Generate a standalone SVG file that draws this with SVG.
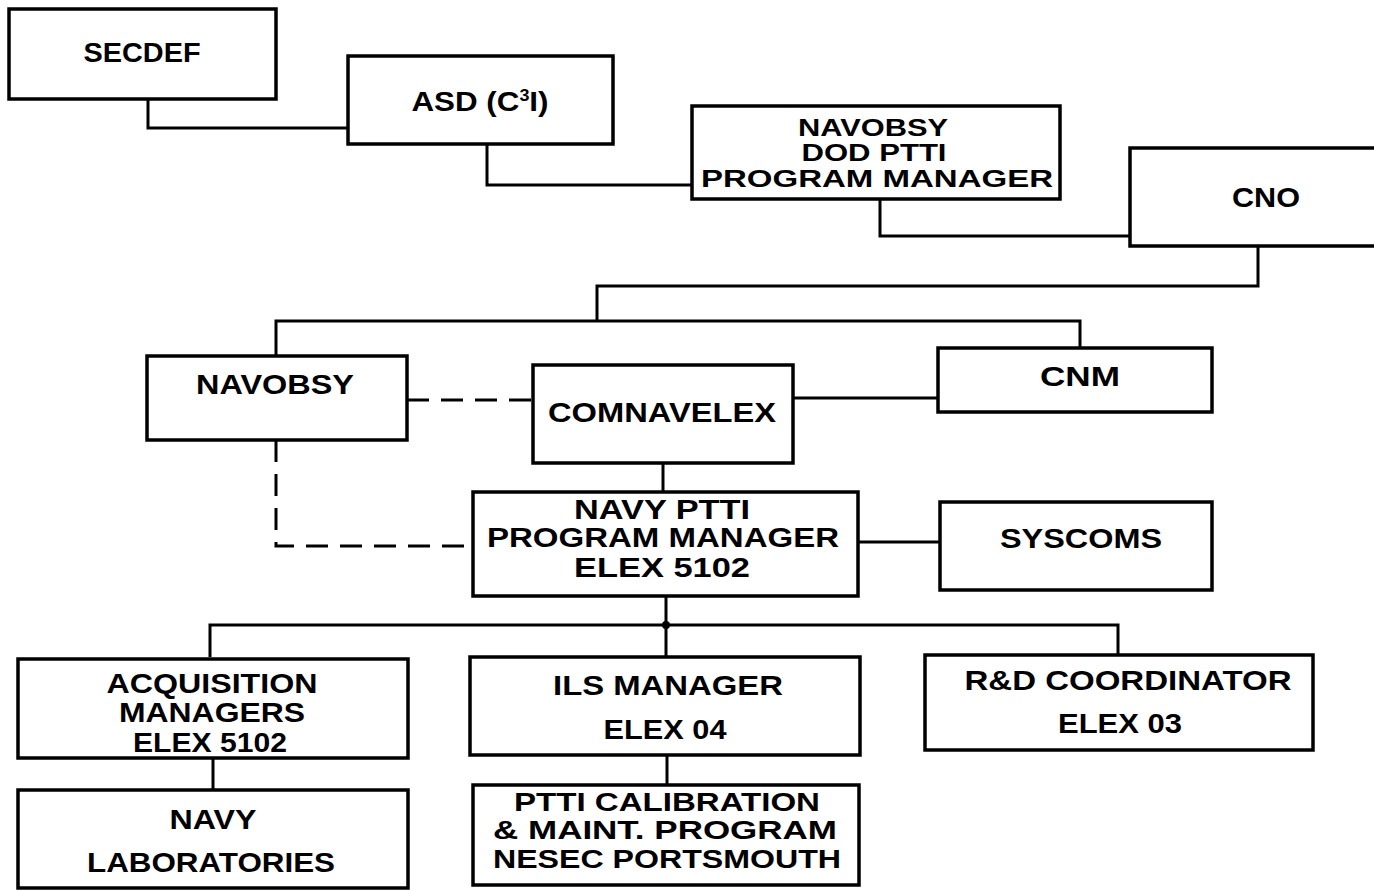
<svg xmlns="http://www.w3.org/2000/svg" width="1374" height="890" viewBox="0 0 1374 890">
<style>
.box{fill:#fff;stroke:#000;stroke-width:3.5}
.ln{fill:none;stroke:#000;stroke-width:3}
.dash{fill:none;stroke:#000;stroke-width:3;stroke-dasharray:22 12}
text{font-family:"Liberation Sans",Arial,sans-serif;font-weight:bold;font-size:28px;fill:#000;text-anchor:middle}
.s24{font-size:24px}
.s25{font-size:25px}
.s27{font-size:27px}
</style>
<rect width="1374" height="890" fill="#fff"/>
<g id="connectors">
<polyline class="ln" points="148,98 148,128 348,128"/>
<polyline class="ln" points="487,144 487,185 692,185"/>
<polyline class="ln" points="880,199 880,236 1130,236"/>
<polyline class="ln" points="1258,246 1258,286 597,286 597,321"/>
<polyline class="ln" points="276,356 276,321 1080,321 1080,348"/>
<line class="ln" x1="793" y1="398" x2="938" y2="398"/>
<line class="ln" x1="663" y1="463" x2="663" y2="492"/>
<line class="ln" x1="858" y1="542" x2="940" y2="542"/>
<path class="dash" d="M407,400 H533"/>
<path class="dash" d="M276,440 V546 H473"/>
<polyline class="ln" points="666,595 666,657"/>
<polyline class="ln" points="210,657 210,625 1118,625 1118,655"/>
<circle cx="666" cy="625" r="4" fill="#000"/>
<line class="ln" x1="213" y1="758" x2="213" y2="790"/>
<line class="ln" x1="667" y1="755" x2="667" y2="785"/>
</g>
<g id="secdef"><rect class="box" x="9" y="9" width="267" height="90"/><text x="142" y="62" textLength="117" lengthAdjust="spacingAndGlyphs">SECDEF</text></g>
<g id="asd"><rect class="box" x="348" y="56" width="265" height="88"/><text x="480" y="111" textLength="137" lengthAdjust="spacingAndGlyphs">ASD (C<tspan font-size="16" dy="-10">3</tspan><tspan dy="10">I)</tspan></text></g>
<g id="navobsy-dod"><rect class="box" x="692" y="106" width="368" height="93"/>
<text class="s24" x="873" y="136" textLength="150" lengthAdjust="spacingAndGlyphs">NAVOBSY</text>
<text class="s24" x="874" y="161" textLength="145" lengthAdjust="spacingAndGlyphs">DOD PTTI</text>
<text class="s24" x="877" y="187" textLength="352" lengthAdjust="spacingAndGlyphs">PROGRAM MANAGER</text></g>
<g id="cno"><rect class="box" x="1130" y="148" width="260" height="98"/><text x="1266" y="207" textLength="68" lengthAdjust="spacingAndGlyphs">CNO</text></g>
<g id="navobsy"><rect class="box" x="147" y="356" width="260" height="84"/><text x="275" y="394" textLength="158" lengthAdjust="spacingAndGlyphs">NAVOBSY</text></g>
<g id="comnavelex"><rect class="box" x="533" y="365" width="260" height="98"/><text x="662" y="422" textLength="228" lengthAdjust="spacingAndGlyphs">COMNAVELEX</text></g>
<g id="cnm"><rect class="box" x="938" y="348" width="274" height="64"/><text x="1080" y="386" textLength="80" lengthAdjust="spacingAndGlyphs">CNM</text></g>
<g id="navy-ptti"><rect class="box" x="473" y="492" width="385" height="104"/>
<text class="s27" x="662" y="519" textLength="176" lengthAdjust="spacingAndGlyphs">NAVY PTTI</text>
<text class="s27" x="663" y="547" textLength="352" lengthAdjust="spacingAndGlyphs">PROGRAM MANAGER</text>
<text class="s27" x="662" y="577" textLength="176" lengthAdjust="spacingAndGlyphs">ELEX 5102</text></g>
<g id="syscoms"><rect class="box" x="940" y="502" width="272" height="88"/><text x="1081" y="548" textLength="162" lengthAdjust="spacingAndGlyphs">SYSCOMS</text></g>
<g id="acquisition"><rect class="box" x="18" y="659" width="390" height="99"/>
<text x="212" y="693" textLength="211" lengthAdjust="spacingAndGlyphs">ACQUISITION</text>
<text x="212" y="722" textLength="186" lengthAdjust="spacingAndGlyphs">MANAGERS</text>
<text x="210" y="752" textLength="154" lengthAdjust="spacingAndGlyphs">ELEX 5102</text></g>
<g id="ils"><rect class="box" x="470" y="657" width="390" height="98"/>
<text x="668" y="695" textLength="230" lengthAdjust="spacingAndGlyphs">ILS MANAGER</text>
<text x="665" y="739" textLength="123" lengthAdjust="spacingAndGlyphs">ELEX 04</text></g>
<g id="rd"><rect class="box" x="925" y="655" width="388" height="95"/>
<text x="1128" y="690" textLength="327" lengthAdjust="spacingAndGlyphs">R&amp;D COORDINATOR</text>
<text x="1120" y="733" textLength="124" lengthAdjust="spacingAndGlyphs">ELEX 03</text></g>
<g id="navy-labs"><rect class="box" x="18" y="790" width="390" height="98"/>
<text x="213" y="829" textLength="87" lengthAdjust="spacingAndGlyphs">NAVY</text>
<text x="211" y="872" textLength="248" lengthAdjust="spacingAndGlyphs">LABORATORIES</text></g>
<g id="ptti-cal"><rect class="box" x="473" y="785" width="386" height="100"/>
<text class="s25" x="667" y="811" textLength="306" lengthAdjust="spacingAndGlyphs">PTTI CALIBRATION</text>
<text class="s25" x="665" y="839" textLength="344" lengthAdjust="spacingAndGlyphs">&amp; MAINT. PROGRAM</text>
<text class="s25" x="667" y="868" textLength="348" lengthAdjust="spacingAndGlyphs">NESEC PORTSMOUTH</text></g>
</svg>
